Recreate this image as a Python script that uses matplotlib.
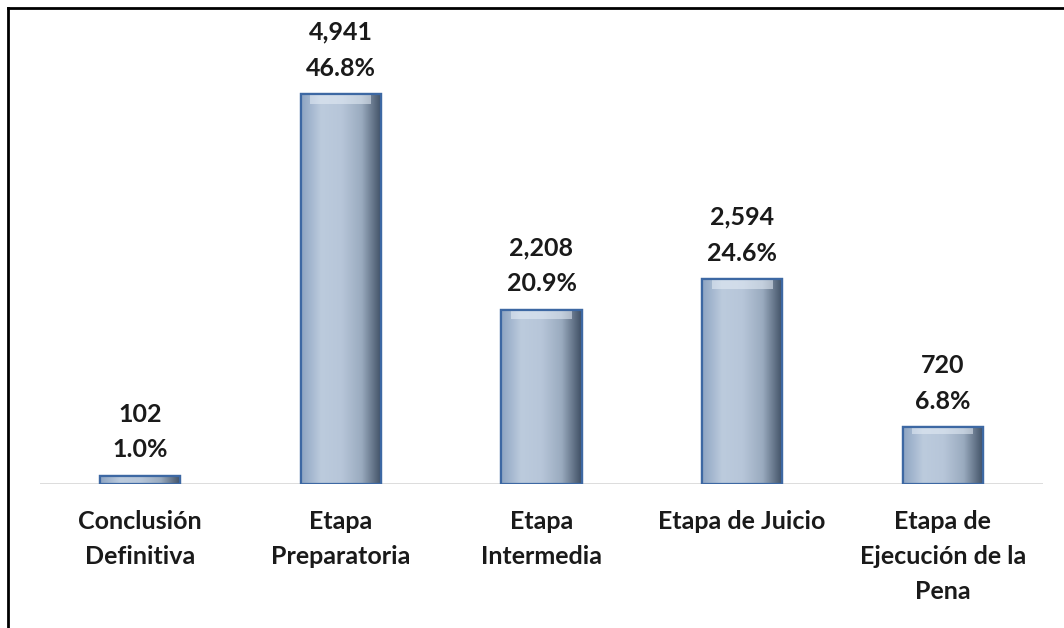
import numpy as np
import matplotlib.pyplot as plt
from matplotlib.lines import Line2D
from matplotlib.colors import LinearSegmentedColormap

etapas = ['Conclusión\nDefinitiva', 'Etapa\nPreparatoria', 'Etapa\nIntermedia',
          'Etapa de Juicio', 'Etapa de\nEjecución de la\nPena']
valores = [102, 4941, 2208, 2594, 720]
porcentajes = [1.0, 46.8, 20.9, 24.6, 6.8]

plt.rcParams['font.family'] = ['Lato', 'DejaVu Sans']

fig = plt.figure(figsize=(10.64, 6.28), dpi=100)
ax = fig.add_axes([40 / 1064, 144 / 628, 1003 / 1064, 0.754])

x = np.arange(len(valores))
bars = ax.bar(x, valores, width=0.4, color='#b7c6d9', edgecolor='#3d68a3',
              linewidth=1.6, zorder=3)

# sombreado tipo bisel: degradado horizontal dentro de cada barra
cmap = LinearSegmentedColormap.from_list('bisel', ['#8da4c2', '#bccbdd', '#b7c6d9', '#9aabbf', '#3e4e63'])
grad = np.linspace(0, 1, 256).reshape(1, -1)
for b in bars:
    x0, y0 = b.get_x(), b.get_y()
    w, h = b.get_width(), b.get_height()
    im = ax.imshow(grad, cmap=cmap, extent=(x0, x0 + w, y0, y0 + h),
                   aspect='auto', zorder=3.5, interpolation='bicubic')
    im.set_clip_path(b)
    # franja superior clara
    top = min(h * 0.12, 120)
    ax.fill_between([x0 + w * 0.12, x0 + w * 0.88], y0 + h - top, y0 + h,
                    color='#e6eef7', alpha=0.55, zorder=3.6, linewidth=0)
    ax.bar(x0 + w / 2, h, width=w, bottom=y0, fill=False, edgecolor='#3d68a3',
           linewidth=1.6, zorder=4)

for xi, v, p in zip(x, valores, porcentajes):
    ax.annotate(f'{v:,}', (xi, v), xytext=(0, 44.6), textcoords='offset points',
                ha='center', va='center', fontsize=18, fontweight='bold', color='#1a1a1a')
    ax.annotate(f'{p:.1f}%', (xi, v), xytext=(0, 18.7), textcoords='offset points',
                ha='center', va='center', fontsize=18, fontweight='bold', color='#1a1a1a')

ax.set_xlim(-0.5, 4.5)
ax.set_ylim(0, 6000)
ax.set_xticks(x)
ax.set_xticklabels(etapas, fontsize=18, fontweight='bold', color='#1a1a1a',
                   linespacing=1.62, va='top', ha='center')
ax.tick_params(axis='x', length=0, pad=19)
ax.set_yticks([])
for s in ['top', 'right', 'left', 'bottom']:
    ax.spines[s].set_visible(False)
ax.axhline(0, xmin=0, xmax=1, color='#d9d9d9', linewidth=2, zorder=2)

# marco exterior (solo izquierda y arriba visibles en la imagen)
fig.add_artist(Line2D([8 / 1064, 8 / 1064], [0, 1 - 8 / 628], color='black', lw=2))
fig.add_artist(Line2D([8 / 1064, 1], [1 - 8 / 628, 1 - 8 / 628], color='black', lw=2))

fig.savefig('out.png', dpi=100)
